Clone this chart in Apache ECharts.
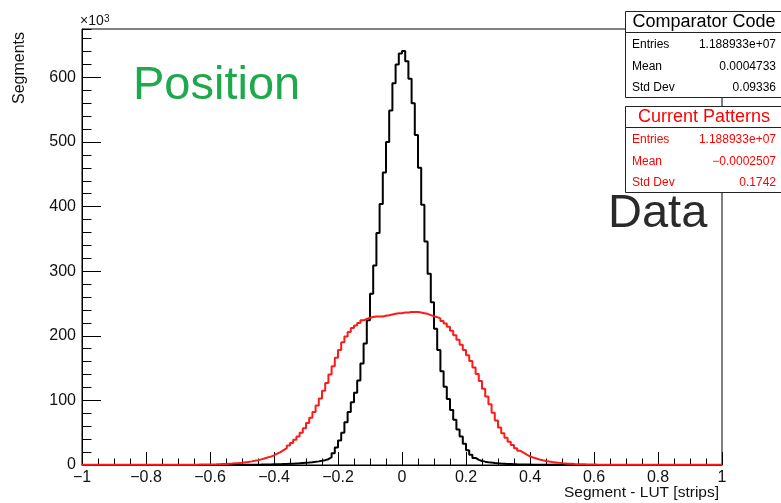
<!DOCTYPE html>
<html>
<head>
<meta charset="utf-8">
<script src="https://cdn.jsdelivr.net/npm/echarts@6/dist/echarts.min.js"></script>
<style>
html,body{margin:0;padding:0;background:#fff;}
#chart{width:781px;height:503px;}
</style>
</head>
<body>
<div id="chart"></div>
<script>
// ---- Data (units: 10^3 segments per 0.01-strip bin) ----
const binLow = -1.0;
const binWidth = 0.01;
const xTickLabels = ['\u22121','\u22120.8','\u22120.6','\u22120.4','\u22120.2','0','0.2','0.4','0.6','0.8','1'];
const yTickLabels = ['0','100','200','300','400','500','600'];

const comparatorCode = [
  0,0,0,0,0,0,0,0,0,0,
  0,0,0,0,0,0,0,0,0,0,
  0,0,0,0,0,0,0,0,0,0,
  0,0,0,0,0,0,0.05,0.05,0.05,0.05,
  0.1,0.1,0.1,0.1,0.15,0.2,0.2,0.25,0.3,0.3,
  0.35,0.4,0.45,0.5,0.55,0.6,0.7,0.8,0.9,1.0,
  1.1,1.2,1.4,1.6,1.8,2.0,2.3,2.6,3.0,3.4,
  3.8,4.3,4.9,5.6,6.5,7.5,9,12,18,27,
  38,50,66,82,97,112,131,157,188,224,
  265,309,359,404,453,500,549,591,620,637,
  641,625,598,560,511,460,403,346,296,252,
  211,178,145,121,102,85,70,55,44,33,
  23,16,11,8,6.2,5.2,4.4,3.7,3.1,2.6,
  2.2,1.9,1.6,1.4,1.2,1.0,0.9,0.8,0.7,0.6,
  0.5,0.45,0.4,0.35,0.3,0.3,0.25,0.2,0.2,0.15,
  0.1,0.1,0.1,0.1,0.1,0.1,0.1,0.1,0.1,0.1,
  0.05,0.05,0.05,0.05,0,0,0,0,0,0,
  0,0,0,0,0,0,0,0,0,0,
  0,0,0,0,0,0,0,0,0,0,
  0,0,0,0,0,0,0,0,0,0
];

const currentPatterns = [
  0.2,0.2,0.2,0.2,0.2,0.2,0.2,0.2,0.2,0.2,
  0.2,0.2,0.2,0.2,0.2,0.2,0.2,0.2,0.2,0.2,
  0.3,0.3,0.3,0.3,0.3,0.3,0.3,0.3,0.3,0.3,
  0.4,0.4,0.45,0.5,0.5,0.55,0.6,0.65,0.7,0.8,
  0.9,1.0,1.2,1.4,1.6,1.9,2.2,2.6,3.0,3.5,
  4.1,4.8,5.6,6.5,7.5,8.7,10,11.5,13,15,
  17.5,20,23,26,30,34,39,44,50,57,
  65,73,82,92,103,115,127,140,153,166,
  178,190,199,206,212,216,220,224,226,228,
  229,230,230,230,231,232,233,234,235,235,
  236,236,237,237,237,236,235,234,232,230,
  229,227,223,219,214,208,201,194,186,178,
  170,161,151,141,130,118,106,94,81,69,
  58,49,42,36,31,26,22,19,16,13.5,
  11.5,10,8.5,7.3,6.3,5.4,4.6,4.0,3.4,2.9,
  2.5,2.1,1.8,1.5,1.3,1.1,1.0,0.9,0.8,0.7,
  0.6,0.55,0.5,0.5,0.45,0.4,0.4,0.35,0.35,0.3,
  0.3,0.3,0.3,0.3,0.3,0.3,0.3,0.3,0.3,0.3,
  0.2,0.2,0.2,0.2,0.2,0.2,0.2,0.2,0.2,0.2,
  0.2,0.2,0.2,0.2,0.2,0.2,0.2,0.2,0.2,0.2
];

const statsComparator = [['Entries','1.188933e+07'],['Mean','0.0004733'],['Std Dev','0.09336']];
const statsCurrent = [['Entries','1.188933e+07'],['Mean','\u22120.0002507'],['Std Dev','0.1742']];
const yMax = 675;

// ---- build histogram step data ----
function histPoints(vals){
  const pts = vals.map((v,i)=>[+(binLow + i*binWidth).toFixed(2), v]);
  pts.push([+(binLow + vals.length*binWidth).toFixed(2), vals[vals.length-1]]);
  return pts;
}

const FONT = '"Liberation Sans", Arial, Helvetica, sans-serif';
const chart = echarts.init(document.getElementById('chart'), null, {renderer:'canvas'});

function statBox(top, title, rows, color){
  const els = [];
  els.push({type:'rect', z:100, shape:{x:625.5, y:top+0.5, width:170, height:86}, style:{fill:'#fff', stroke:'#222', lineWidth:1}});
  els.push({type:'line', z:101, shape:{x1:625.5, y1:top+21.5, x2:781, y2:top+21.5}, style:{stroke:'#222', lineWidth:1}});
  els.push({type:'text', z:102, style:{text:title, x:704, y:top+11.5, fill:color, font:'18px '+FONT, align:'center', verticalAlign:'middle'}});
  rows.forEach((r,i)=>{
    const y = top + 34 + i*21.5;
    els.push({type:'text', z:102, style:{text:r[0], x:632, y:y, fill:color, font:'12px '+FONT, align:'left', verticalAlign:'middle'}});
    els.push({type:'text', z:102, style:{text:r[1], x:776, y:y, fill:color, font:'12px '+FONT, align:'right', verticalAlign:'middle'}});
  });
  return els;
}

const option = {
  animation:false,
  backgroundColor:'#fff',
  grid:{left:82, right:59, top:29, bottom:38, show:true, borderColor:'#000', borderWidth:1, backgroundColor:'transparent'},
  xAxis:{
    type:'value', min:-1, max:1, interval:0.2,
    axisLine:{show:true, onZero:false, lineStyle:{color:'#000', width:1}},
    axisTick:{show:true, inside:true, length:13, lineStyle:{color:'#000'}},
    minorTick:{show:true, splitNumber:4, length:6.5, lineStyle:{color:'#000'}},
    splitLine:{show:false}, minorSplitLine:{show:false},
    axisLabel:{margin:5, fontSize:16, fontFamily:FONT, color:'#111',
      formatter:function(v){ const k=Math.round((v-binLow)/0.2); return xTickLabels[k]||''; }}
  },
  yAxis:[{
    type:'value', min:0, max:yMax, interval:100, position:'left',
    axisLine:{show:true, onZero:false, lineStyle:{color:'#000', width:1}},
    axisTick:{show:true, inside:true, length:19, lineStyle:{color:'#000'}},
    splitLine:{show:false},
    axisLabel:{margin:6, fontSize:16, fontFamily:FONT, color:'#111', showMaxLabel:false,
      formatter:function(v){ return (v%100===0 && v/100 < yTickLabels.length) ? yTickLabels[v/100] : ''; }}
  },{
    type:'value', min:0, max:yMax, interval:20, position:'left', offset:0,
    axisLine:{show:false, onZero:false}, axisLabel:{show:false}, splitLine:{show:false},
    axisTick:{show:true, inside:true, length:9.5, lineStyle:{color:'#000'}}
  }],
  series:[{
    type:'line', name:'Comparator Code', step:'end', symbol:'none', yAxisIndex:0,
    data:histPoints(comparatorCode), lineStyle:{color:'#000', width:2}, z:3
  },{
    type:'line', name:'Current Patterns', step:'end', symbol:'none', yAxisIndex:0,
    data:histPoints(currentPatterns), lineStyle:{color:'#ff1a1a', width:2}, z:4
  }],
  graphic:[
    {type:'text', z:50, style:{text:'\u00d710', x:80, y:28, fill:'#111', font:'14px '+FONT, align:'left', verticalAlign:'bottom'}},
    {type:'text', z:50, style:{text:'3', x:104, y:24, fill:'#111', font:'10px '+FONT, align:'left', verticalAlign:'bottom'}},
    {type:'text', z:50, x:20, y:68, rotation:Math.PI/2, style:{text:'Segments', x:0, y:0, fill:'#111', font:'16px '+FONT, align:'center', verticalAlign:'middle'}},
    {type:'text', z:50, style:{text:'Segment - LUT [strips]', x:719, y:493, fill:'#111', font:'15.5px '+FONT, align:'right', verticalAlign:'middle'}},
    {type:'text', z:50, style:{text:'Position', x:133, y:86, fill:'#1fa84c', font:'47px '+FONT, align:'left', verticalAlign:'middle'}}
  ].concat(statBox(11,'Comparator Code',statsComparator,'#000'))
   .concat(statBox(106,'Current Patterns',statsCurrent,'#ff0000'))
   .concat([{type:'text', z:120, style:{text:'Data', x:608, y:214, fill:'#2a2a2a', font:'47px '+FONT, align:'left', verticalAlign:'middle'}}])
};
chart.setOption(option);
</script>
</body>
</html>
